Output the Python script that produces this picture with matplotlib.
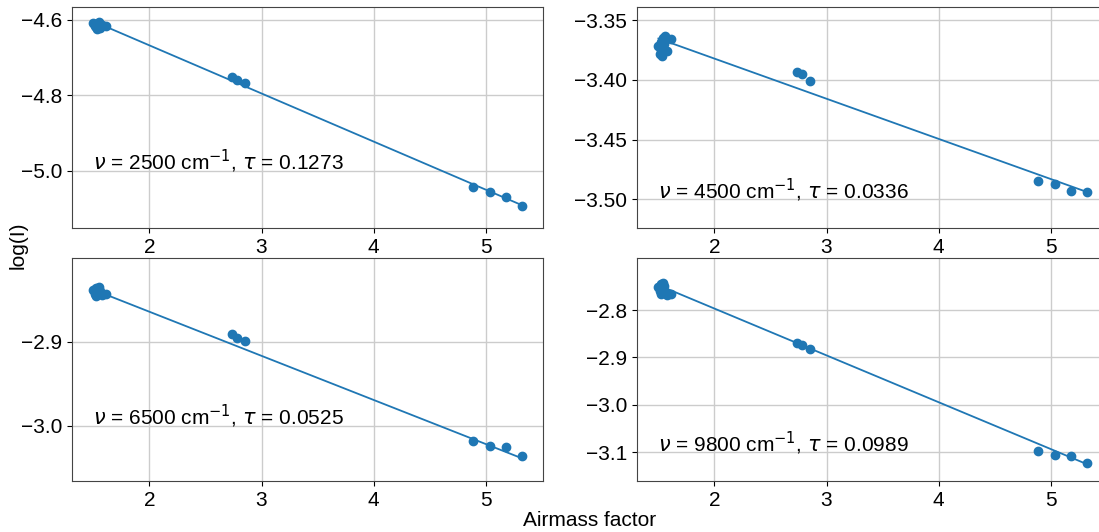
import matplotlib

matplotlib.use("Agg")
import matplotlib.pyplot as plt
import numpy as np

plt.rcParams["font.family"] = ["Liberation Sans", "DejaVu Sans"]
plt.rcParams["mathtext.fontset"] = "dejavusans"

# airmass values shared by all four panels
airmass = [1.50, 1.51, 1.52, 1.52, 1.53, 1.54, 1.55, 1.56, 1.58, 1.61,
           2.74, 2.78, 2.85, 4.89, 5.04, 5.18, 5.32]

wavenumbers = [2500, 4500, 6500, 9800]
taus = [0.1273, 0.0336, 0.0525, 0.0989]
intercepts = [-4.413, -3.315, -2.759, -2.599]

log_i_2500 = [-4.608, -4.615, -4.620, -4.612, -4.625, -4.618, -4.606, -4.622, -4.614, -4.617,
              -4.750, -4.758, -4.766, -5.043, -5.056, -5.069, -5.092]
log_i_4500 = [-3.372, -3.378, -3.368, -3.375, -3.380, -3.365, -3.370, -3.363, -3.376, -3.366,
              -3.393, -3.395, -3.401, -3.485, -3.487, -3.493, -3.494]
log_i_6500 = [-2.838, -2.843, -2.836, -2.845, -2.840, -2.842, -2.834, -2.839, -2.844, -2.843,
              -2.891, -2.895, -2.899, -3.018, -3.024, -3.025, -3.036]
log_i_9800 = [-2.752, -2.760, -2.745, -2.765, -2.758, -2.742, -2.750, -2.762, -2.768, -2.765,
              -2.870, -2.874, -2.882, -3.098, -3.106, -3.109, -3.123]
series = [log_i_2500, log_i_4500, log_i_6500, log_i_9800]

ylims = [(-5.151, -4.566), (-3.524, -3.339), (-3.0655, -2.80), (-3.161, -2.69)]
yticks = [[-5.0, -4.8, -4.6], [-3.50, -3.45, -3.40, -3.35], [-3.0, -2.9], [-3.1, -3.0, -2.9, -2.8]]
text_y = [0.30, 0.17, 0.29, 0.17]

W, H = 1099, 532
fig = plt.figure(figsize=(W / 100, H / 100), dpi=100)
boxes = [(72, 7), (637, 7), (72, 258), (637, 258)]
heights = [221, 221, 223, 223]

x_line = np.array([min(airmass), max(airmass)])
for k, ((px, py), h) in enumerate(zip(boxes, heights)):
    ax = fig.add_axes([px / W, 1 - (py + h) / H, 471 / W, h / H])
    ax.scatter(airmass, series[k], s=36, color="#1f77b4", zorder=3)
    ax.plot(x_line, intercepts[k] - taus[k] * x_line, color="#1f77b4", lw=1.3, zorder=2)
    ax.set_xlim(1.309, 5.511)
    ax.set_ylim(*ylims[k])
    ax.set_xticks([2, 3, 4, 5])
    ax.set_yticks(yticks[k])
    ax.grid(True, color="#cccccc", lw=1.0)
    ax.set_axisbelow(True)
    ax.tick_params(labelsize=15)
    for sp in ax.spines.values():
        sp.set_color("#444444")
    ax.text(0.045, text_y[k],
            rf"$\nu$ = {wavenumbers[k]} cm$^{{-1}}$, $\tau$ = {taus[k]:.4f}",
            transform=ax.transAxes, fontsize=15, va="center")

fig.text(18 / W, 1 - 245 / H, "log(I)", rotation=90, fontsize=15, ha="center", va="center")
fig.text(590 / W, 1 - 520 / H, "Airmass factor", fontsize=15, ha="center", va="center")

fig.savefig("out.png", dpi=100)
